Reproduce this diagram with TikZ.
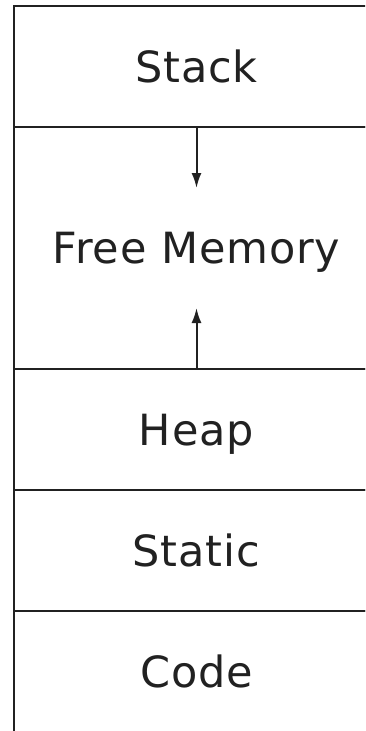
\documentclass[tikz,border=0pt]{standalone}
\usepackage{fontspec}
\setsansfont{DejaVu Sans}[LetterSpace=2]
\usepackage{tikz}
\usetikzlibrary{arrows.meta, positioning}
\tikzset{
        >={Latex[length=15pt, width=10pt]}, % slim filled heads
        region/.style={draw, line width=2pt, outer sep=0pt, inner sep=0pt,
          minimum width=365pt, minimum height=121pt,
          font=\fontsize{43}{50}\sffamily, text height=31pt, text depth=0pt}, % one block of memory
        growth/.style={->, line width=2pt}, % growth direction
    }
\begin{document}
\begin{tikzpicture}[color={black!87}]
    \clip (0,-731pt) rectangle (365pt,0pt);
    \node[region] (stack) at (196.5pt,-66.5pt) {Stack};
    \node[region, minimum height=242pt, below=0pt of stack] (free) {Free Memory};
    \node[region, below=0pt of free] (heap) {Heap};
    \node[region, below=0pt of heap] (static) {Static};
    \node[region, below=0pt of static] (code) {Code};
    \coordinate[below=61pt of stack.south] (stackend);
    \coordinate[above=61pt of heap.north] (heapend);
    \draw[growth] (stack.south) -- (stackend);
    \draw[growth] (heap.north) -- (heapend);
\end{tikzpicture}
\end{document}
